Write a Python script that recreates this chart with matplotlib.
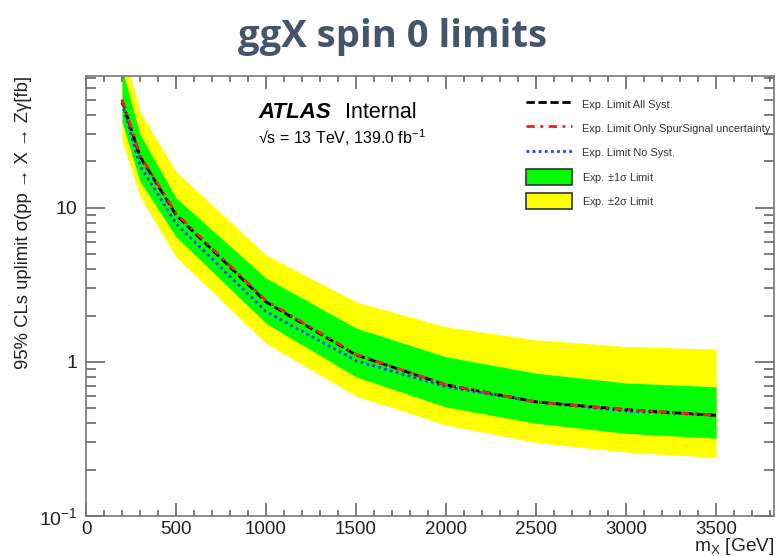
import numpy as np
import matplotlib
matplotlib.use("Agg")
import matplotlib.pyplot as plt
import matplotlib.patches as mpatches
from matplotlib.lines import Line2D
from matplotlib.ticker import LogLocator, MultipleLocator, FixedFormatter, FixedLocator

plt.rcParams['font.family'] = ['Liberation Sans', 'DejaVu Sans']
plt.rcParams['mathtext.fontset'] = 'custom'
plt.rcParams['mathtext.rm'] = 'Liberation Sans'
plt.rcParams['mathtext.it'] = 'Liberation Sans:italic'

# signal mass points [GeV]
mass = [200, 300, 500, 1000, 1500, 2000, 2500, 3000, 3500]

# expected limits [fb]
exp_all_syst = [50.0, 21.5, 9.0, 2.45, 1.11, 0.71, 0.55, 0.49, 0.45]
exp_spur_only = [50.5, 22.0, 9.2, 2.50, 1.12, 0.71, 0.55, 0.49, 0.45]
exp_no_syst = [48.0, 18.8, 7.9, 2.12, 1.02, 0.69, 0.55, 0.48, 0.45]

# bands
band1_up = [80.0, 30.0, 11.6, 3.50, 1.66, 1.08, 0.845, 0.73, 0.69]
band1_dn = [36.0, 14.8, 6.5, 1.78, 0.80, 0.51, 0.40, 0.344, 0.32]
band2_up = [115.0, 42.0, 17.2, 4.95, 2.45, 1.69, 1.39, 1.26, 1.21]
band2_dn = [27.5, 11.8, 4.8, 1.32, 0.60, 0.39, 0.30, 0.26, 0.24]

W, H = 777, 556
fig = plt.figure(figsize=(W / 100, H / 100), dpi=100)
ax = fig.add_axes([86 / W, 1 - 516 / H, (774 - 86) / W, (516 - 75.7) / H])

green = '#00ff00'
yellow = '#ffff00'

ax.fill_between(mass, band2_dn, band2_up, color=yellow, lw=0)
ax.fill_between(mass, band1_dn, band1_up, color=green, lw=0)
ax.plot(mass, exp_no_syst, color='#1f3fff', lw=2, linestyle=(0, (1, 1.2)))
ax.plot(mass, exp_all_syst, color='black', lw=2, linestyle=(0, (3, 1.3)))
ax.plot(mass, exp_spur_only, color='#ff1a1a', lw=2, linestyle=(0, (3, 2, 1, 2)))

ax.set_yscale('log')
ax.set_xlim(0, 3822)
ax.set_ylim(0.1, 72)

ax.xaxis.set_major_locator(MultipleLocator(500))
ax.xaxis.set_minor_locator(MultipleLocator(100))
ax.yaxis.set_major_locator(FixedLocator([0.1, 1, 10]))
ax.yaxis.set_major_formatter(FixedFormatter([r'$10^{-1}$', '1', '10']))
ax.yaxis.set_minor_locator(LogLocator(base=10, subs=np.arange(2, 10), numticks=20))
ax.yaxis.set_minor_formatter(FixedFormatter([]))

tick_col = '#666666'
ax.tick_params(axis='both', which='both', direction='in', top=True, right=True,
               color=tick_col, width=1.2, labelcolor='#222222')
ax.tick_params(axis='x', which='major', length=9.5, pad=3.5, labelsize=13.5)
ax.tick_params(axis='x', which='minor', length=4.5)
ax.tick_params(axis='y', which='major', length=14, pad=6, labelsize=14)
ax.tick_params(axis='y', which='minor', length=7)
for s in ax.spines.values():
    s.set_color('#777777')
    s.set_linewidth(1.2)

ax.set_ylabel('95% CLs uplimit σ(pp → X → Zγ[fb]', fontsize=13.3, loc='top',
              color='#222222', labelpad=5)
ax.set_xlabel(r'm$_{\mathrm{X}}$ [GeV]', fontsize=13.8, loc='right',
              color='#222222', labelpad=-1.5)

# ATLAS label
ax.text((258 - 86) / 688, (516 - 112) / 440.3, 'ATLAS', transform=ax.transAxes,
        fontsize=16, fontweight='bold', fontstyle='italic', va='center', ha='left')
ax.text((345 - 86) / 688, (516 - 112) / 440.3, 'Internal', transform=ax.transAxes,
        fontsize=15.5, va='center', ha='left')
ax.text((258 - 86) / 688, (516 - 138) / 440.3, '√s = 13 TeV, 139.0 fb$^{-1}$',
        transform=ax.transAxes, fontsize=11.5, va='center', ha='left')

handles = [
    Line2D([], [], color='black', lw=2, linestyle=(0, (3, 1.3))),
    Line2D([], [], color='#ff1a1a', lw=2, linestyle=(0, (3, 2, 1, 2))),
    Line2D([], [], color='#1f3fff', lw=2, linestyle=(0, (1, 1.2))),
    mpatches.Patch(facecolor=green, edgecolor='#333333', lw=1.2),
    mpatches.Patch(facecolor=yellow, edgecolor='#333333', lw=1.2),
]
labels = ['Exp. Limit All Syst.', 'Exp. Limit Only SpurSignal uncertainty',
          'Exp. Limit No Syst.', r'Exp. $\pm$1σ Limit', r'Exp. $\pm$2σ Limit']
leg = ax.legend(handles, labels, loc='upper left',
                bbox_to_anchor=((526 - 86) / 688, (516 - 96.5) / 440.3),
                frameon=False, fontsize=7.9, handlelength=4.2, handleheight=1.9,
                handletextpad=0.9, labelspacing=0.72, borderpad=0, borderaxespad=0)
for t in leg.get_texts():
    t.set_color('#333333')

fig.text(393 / W, 1 - 47 / H, 'ggX spin 0 limits', ha='center', va='baseline',
         fontsize=27.5, fontweight='bold', color='#44546a', family='Open Sans')

fig.savefig('out.png', dpi=100)
